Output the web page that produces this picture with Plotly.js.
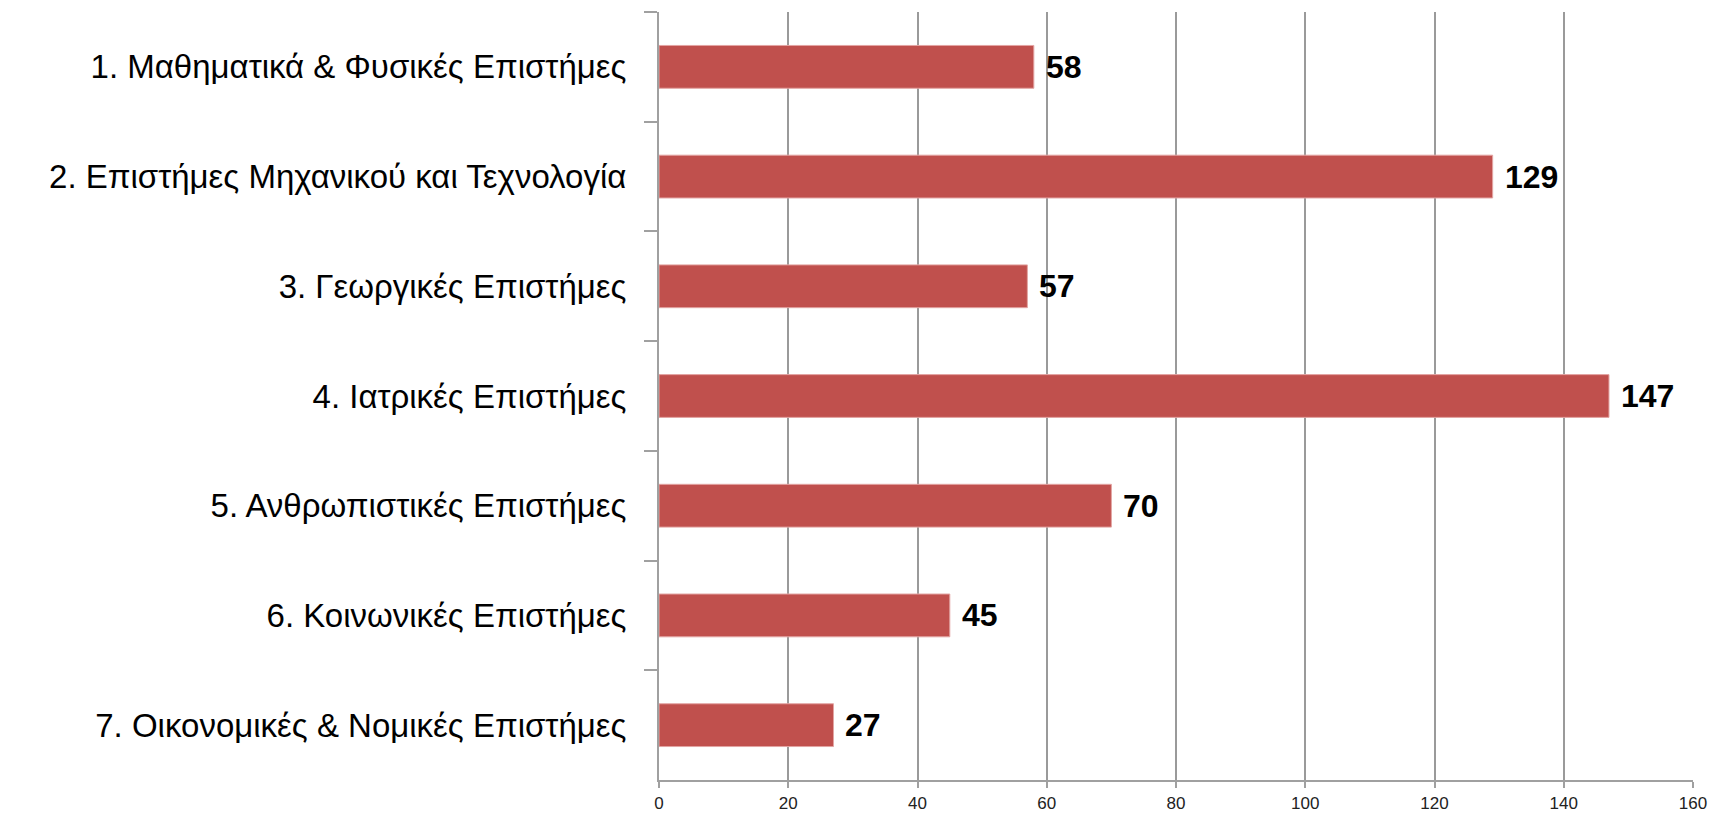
<!DOCTYPE html>
<html>
<head>
<meta charset="utf-8">
<script src="https://cdn.plot.ly/plotly-3.0.1.min.js"></script>
<style>
html,body{margin:0;padding:0;background:#fff;}
#chart{width:1711px;height:817px;}
</style>
</head>
<body>
<div id="chart"></div>
<script>
const categories = [
  "1. Μαθηματικά & Φυσικές Επιστήμες",
  "2. Επιστήμες Μηχανικού και Τεχνολογία",
  "3. Γεωργικές Επιστήμες",
  "4. Ιατρικές Επιστήμες",
  "5. Ανθρωπιστικές Επιστήμες",
  "6. Κοινωνικές Επιστήμες",
  "7. Οικονομικές & Νομικές Επιστήμες"
];
const values = [58, 129, 57, 147, 70, 45, 27];
const xTicks = [0, 20, 40, 60, 80, 100, 120, 140, 160];

const FONT = "'Liberation Sans', Arial, sans-serif";

const trace = {
  type: 'bar',
  orientation: 'h',
  x: values,
  y: categories,
  width: 0.39,
  marker: {color: '#C0504D', line: {color: '#E3A5A3', width: 1}},
  hoverinfo: 'none'
};

const annotations = values.map((v, i) => ({
  x: v, y: categories[i], xref: 'x', yref: 'y',
  text: String(v), showarrow: false,
  xanchor: 'left', yanchor: 'middle', xshift: 10,
  font: {family: FONT, size: 32, color: '#000', weight: 'bold'}
}));

const layout = {
  width: 1711, height: 817,
  margin: {l: 659, r: 18, t: 12, b: 37},
  paper_bgcolor: '#fff', plot_bgcolor: '#fff',
  showlegend: false,
  bargap: 0.61,
  font: {family: FONT, color: '#000'},
  xaxis: {
    range: [0, 160],
    tickvals: xTicks,
    ticktext: xTicks.map(String),
    showgrid: true, gridcolor: '#9A9A9A', gridwidth: 2,
    zeroline: false,
    showline: true, linecolor: '#A0A0A0', linewidth: 2,
    ticks: 'outside', ticklen: 6, tickcolor: '#A0A0A0', tickwidth: 2,
    ticklabelstandoff: 1,
    tickfont: {family: FONT, size: 17, color: '#222'},
    fixedrange: true
  },
  yaxis: {
    type: 'category',
    autorange: 'reversed',
    showgrid: false,
    showline: true, linecolor: '#A0A0A0', linewidth: 2,
    ticks: 'outside', ticklen: 13, tickcolor: '#A0A0A0', tickwidth: 2,
    tickson: 'boundaries',
    ticklabelstandoff: 24,
    tickfont: {family: FONT, size: 33, color: '#000'},
    fixedrange: true
  },
  annotations: annotations
};

Plotly.newPlot('chart', [trace], layout, {displayModeBar: false, staticPlot: true});
</script>
</body>
</html>
